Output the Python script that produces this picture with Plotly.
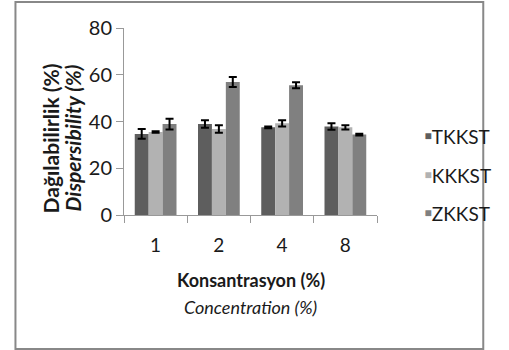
import plotly.graph_objects as go

# Dispersibility by concentration for three formulations
categories = ["1", "2", "4", "8"]
series_names = ["TKKST", "KKKST", "ZKKST"]
tkkst = [34.7, 38.9, 37.5, 37.9]
kkkst = [35.5, 36.8, 39.2, 37.5]
zkkst = [38.9, 56.9, 55.5, 34.4]
tkkst_err = [2.1, 1.6, 0.4, 1.4]
kkkst_err = [0.3, 1.6, 1.3, 0.9]
zkkst_err = [2.3, 2.1, 1.3, 0.4]
colors = ["#5e5e5e", "#b2b2b2", "#808080"]

FONT = "Lato, sans-serif"
TEXT = "#1a1a1a"

fig = go.Figure()
for name, vals, errs, col in zip(series_names, [tkkst, kkkst, zkkst],
                                 [tkkst_err, kkkst_err, zkkst_err], colors):
    fig.add_trace(go.Bar(
        x=categories, y=vals, name=name, marker_color=col,
        marker_line_width=0, showlegend=False,
        error_y=dict(type="data", array=errs, color="black",
                     thickness=2, width=4),
    ))
    # legend entry: small coloured square glyph, then the series name
    fig.add_trace(go.Scatter(
        x=[None], y=[None], mode="markers", legendgroup=name,
        marker=dict(size=1, color="rgba(0,0,0,0)"),
        name=(f'<span style="color:{col};font-size:12px;'
              f'baseline-shift:4px">\u25a0</span>{name}'),
    ))

fig.update_layout(
    width=509, height=350,
    margin=dict(l=124, r=110, t=28, b=135),
    paper_bgcolor="white", plot_bgcolor="white",
    barmode="group", bargap=0.34, bargroupgap=0,
    font=dict(family=FONT, size=20, color=TEXT),
    showlegend=True,
    legend=dict(x=1.03, y=0.52, xanchor="left", yanchor="top",
                traceorder="grouped", tracegroupgap=11,
                font=dict(size=19, color=TEXT),
                bgcolor="rgba(0,0,0,0)", itemwidth=30),
    xaxis=dict(type="category", showline=True, linecolor="#999999",
               linewidth=1, ticks="outside", ticklen=7, tickcolor="#999999",
               tickson="boundaries", showgrid=False, zeroline=False,
               ticklabelstandoff=13, tickfont=dict(size=19)),
    yaxis=dict(range=[0, 80], dtick=20, showline=True, linecolor="#999999",
               linewidth=1, ticks="outside", ticklen=7, tickcolor="#999999",
               showgrid=False, zeroline=False, tickfont=dict(size=20)),
    shapes=[dict(type="rect", xref="paper", yref="paper",
                 x0=-0.429, x1=1.42, y0=-0.716, y1=1.139,
                 line=dict(color="#888888", width=2))],
    annotations=[
        dict(text="<b>Dağılabilirlik (%)</b>", xref="paper", yref="paper",
             x=-0.292, y=0.41, textangle=-90, showarrow=False,
             xanchor="center", yanchor="middle", font=dict(size=21)),
        dict(text="<b><i>Dispersibility (%)</i></b>", xref="paper", yref="paper",
             x=-0.205, y=0.41, textangle=-90, showarrow=False,
             xanchor="center", yanchor="middle", font=dict(size=21)),
        dict(text="<b>Konsantrasyon (%)</b>", xref="paper", yref="paper",
             x=0.5, y=-0.348, showarrow=False,
             xanchor="center", yanchor="middle", font=dict(size=18)),
        dict(text="<i>Concentration (%)</i>", xref="paper", yref="paper",
             x=0.5, y=-0.492, showarrow=False,
             xanchor="center", yanchor="middle", font=dict(size=18)),
    ],
)

fig.write_html("out.html")
